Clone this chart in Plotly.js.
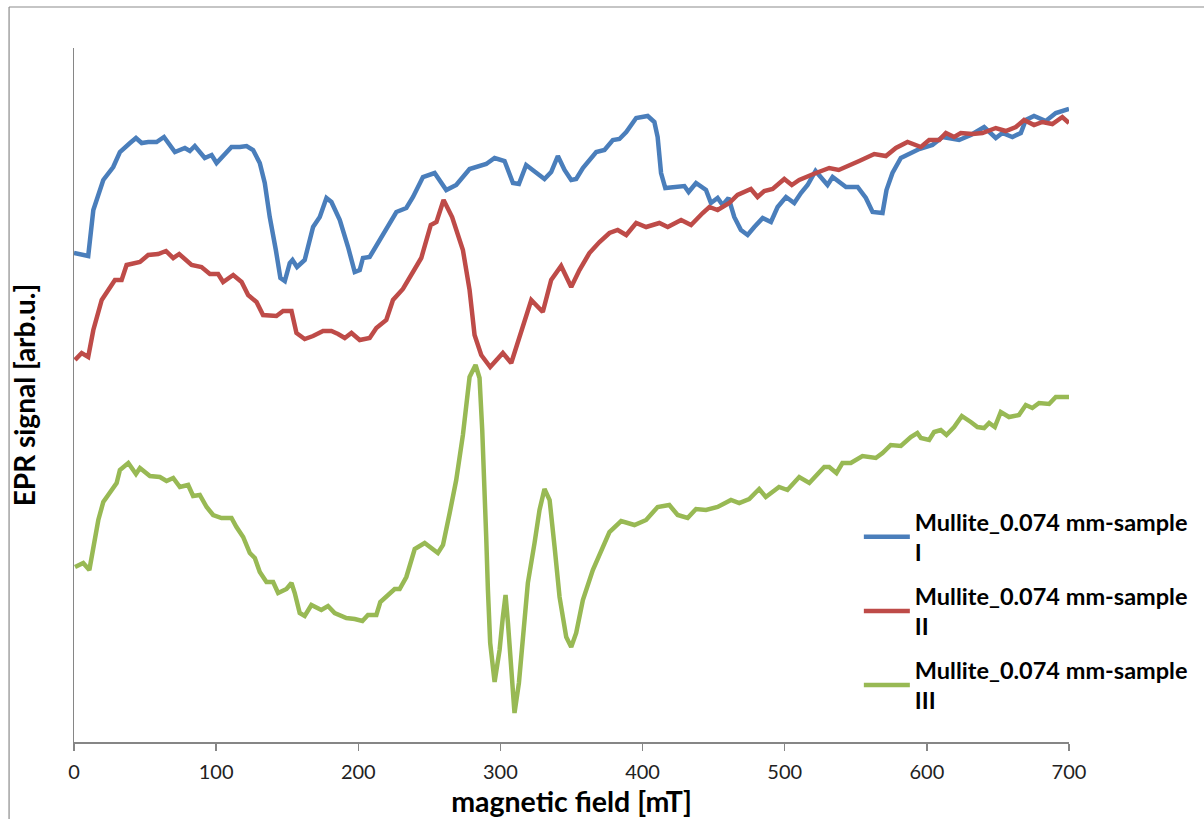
<!DOCTYPE html>
<html>
<head>
<meta charset="utf-8">
<script src="https://cdn.plot.ly/plotly-3.0.1.min.js"></script>
<style>html,body{margin:0;padding:0;background:#fff;}#chart{width:1204px;height:819px;}</style>
</head>
<body>
<div id="chart"></div>
<script>
// magnetic field [mT] and EPR signal [arb.u.] for each sample
const fieldI = [0,10,13.6,20.6,27.6,32.3,39.4,43.6,47.6,52.2,58.1,63.3,71,78,81.5,85,92,96.8,100.3,106,110.8,116.7,121.4,126,130.7,134.2,137.7,142,145.2,148.3,151.8,153.7,156.9,162.3,168.2,172.9,177.6,181.1,187,192.8,197.5,201,203.3,208,215,220.9,226.8,233.8,238.5,245.5,253.7,261.9,268.9,278.3,290,295.9,302.9,308.8,313,318.1,324,331,335.7,340.4,345.1,349.8,353.3,358,367.4,373.2,379.1,383.7,388.5,395.5,403.6,408.3,410.6,413,416,423.6,429.4,432.4,437.6,444.6,448.1,452.8,456.3,460.5,464.5,469.2,473.9,478.6,484.5,490.3,495,500.9,506.7,511.4,516.1,521.7,530.1,533.7,543.1,551.3,557.1,561.8,568.8,571.6,575.8,581.7,589.8,594.6,603.9,611,622.7,630.9,640.3,648.5,653.1,660.2,666.1,669.6,675.4,683.7,690.7,700];
const signalI = [489,486,532,562,575,590,599,604,599,600,600,605,590,594,591,596,584,587,579,587,595,595,596,592,579,559,525,492,464,461,479,482,475,482,515,525,544,540,522,495,470,472,484,485,502,515,530,534,545,565,569,552,557,573,578,584,581,559,558,577,570,563,570,586,572,562,563,574,590,592,602,603,610,624,626,620,605,569,554,555,556,550,559,552,539,544,537,544,525,512,507,515,524,520,535,545,539,549,557,571,557,565,555,555,544,530,529,552,569,584,589,593,597,605,602,607,615,604,609,605,609,622,626,621,629,633];

const fieldII = [0.7,5.4,10,13.6,19.5,28.8,33.5,37,46.4,52.2,59.2,64.7,69.8,74,82.7,89.7,95.6,101.4,104.9,112,117.9,122.5,128.4,133,142.4,147.1,153,156.5,162.3,168.2,175.2,181.1,185.8,190.5,195.2,201,208,212.7,219.7,224.4,231.4,238.5,244.3,251,255,260,266,273.6,278.3,281.8,286.5,292.8,297,301.7,307.6,313.4,321.7,329.8,335.7,342.7,349.8,355.6,362.6,369.7,376.7,382.5,388.5,395.5,402.5,411.8,417.7,427.1,434.1,442.3,447,452.8,461,466.8,476.2,480.9,485.6,491.5,499.7,505,510.2,520.2,531.3,538,546.5,552.4,563,571.2,578.2,586.4,595.8,601.6,608.7,613.4,619.2,623.9,632.1,639.1,648.5,655.5,662.6,668.4,675.4,681.3,688.3,695.3,700];
const signalII = [382,389,385,412,442,462,462,477,480,487,488,491,484,488,477,475,468,468,460,467,460,447,440,427,426,431,431,409,403,406,411,411,408,404,409,402,404,414,422,442,453,470,484,517,520,542,525,492,452,407,387,375,382,389,379,405,442,430,462,476,455,472,489,500,509,512,507,519,515,519,515,522,517,529,535,532,539,547,553,545,551,553,563,557,562,568,574,572,577,581,588,586,594,600,595,602,602,609,605,609,608,609,614,611,615,622,617,620,618,625,619];

const fieldIII = [0.7,6.5,10.8,13.6,17.1,20.6,25.3,30,32.3,38.2,43.6,46.4,53.4,60.4,65.1,69.8,74.5,80.3,83.8,88.5,93.3,97.9,103.8,110.8,114.3,119,123.7,127.2,130.7,135.4,140.1,143.6,149.5,153,155.3,158.8,162.3,167,174,178.7,183.4,191.6,197.5,202.9,206.8,212.7,215.5,220.9,225.6,229.1,233.8,239.7,246.7,256,259.6,264.3,268.9,273.6,277.1,278.3,282.5,285.3,287.2,288.8,290,291.2,292.8,295.9,299.4,301.7,303.6,305.3,307.6,309.9,313,315.8,319.3,324,327.5,331,334.6,338.1,341.6,346.3,349.8,353.3,358,365,370.9,376.7,384.9,394.3,402.5,410.6,418.8,424.7,431.7,437.6,444.6,452.8,462.2,468,475,482,486.7,496,501.9,510.2,517.3,527.8,531.3,536.4,540.6,546.5,554.7,560.6,564.1,568.8,574.6,581.7,588.7,593.3,595.8,601.6,605.1,609.8,613.8,619.2,624.6,630.9,635.6,640.3,643.8,647.8,652,657.8,664.8,669.6,674.2,678.9,686,690.7,700];
const signalIII = [175,179,172,195,222,240,249,259,272,279,268,274,266,265,261,264,255,257,246,247,235,227,224,224,215,205,189,184,170,160,160,149,153,159,149,129,126,137,132,136,129,124,123,121,127,127,140,147,153,153,165,193,199,189,197,229,262,307,359,365,377,364,312,259,205,152,99,60,92,125,147,119,69,29,59,105,159,199,232,253,242,195,145,105,95,109,142,172,192,210,221,217,222,235,237,227,224,233,232,235,242,239,243,253,245,255,252,265,259,275,275,269,279,279,286,285,284,289,297,296,305,309,304,302,310,312,307,315,326,320,315,314,319,315,330,325,327,337,334,339,338,345,345];

const seriesNames = ['Mullite_0.074 mm-sample<br>I','Mullite_0.074 mm-sample<br>II','Mullite_0.074 mm-sample<br>III'];
const seriesColors = ['#4A7EBB','#BE4B48','#98B954'];
const xTicks = [0,100,200,300,400,500,600,700];

const fields = [fieldI, fieldII, fieldIII];
const signals = [signalI, signalII, signalIII];

const traces = fields.map((f, i) => ({
  x: f, y: signals[i], type: 'scatter', mode: 'lines',
  name: seriesNames[i], legendgroup: 'g' + i,
  line: {color: seriesColors[i], width: 4.5, shape: 'linear'}
}));

const axisGray = '#868686';
const layout = {
  width: 1204, height: 819,
  margin: {l: 74, r: 134, t: 48, b: 77, pad: 0},
  paper_bgcolor: '#ffffff', plot_bgcolor: '#ffffff',
  font: {family: 'Lato, "Open Sans", sans-serif', color: '#000'},
  showlegend: true,
  legend: {
    x: 0.788, y: 0.349, xanchor: 'left', yanchor: 'top',
    font: {family: 'Lato, sans-serif', size: 23.5, color: '#000', weight: 'bold'},
    bgcolor: 'rgba(0,0,0,0)', borderwidth: 0,
    traceorder: 'grouped', tracegroupgap: 10, itemwidth: 46
  },
  xaxis: {
    range: [0, 700], tickvals: xTicks, ticktext: xTicks.map(String),
    showgrid: false, zeroline: false,
    showline: true, linecolor: axisGray, linewidth: 1.5,
    ticks: 'outside', ticklen: 7, tickwidth: 1.5, tickcolor: axisGray,
    ticklabelstandoff: 4,
    tickfont: {family: 'Lato, sans-serif', size: 20, color: '#222'},
    title: {text: '<b>magnetic field [mT]</b>', font: {family: 'Lato, sans-serif', size: 28.5, color: '#000'}, standoff: 10},
    automargin: false
  },
  yaxis: {
    range: [0, 694], showticklabels: false, ticks: '',
    showgrid: false, zeroline: false,
    showline: true, linecolor: axisGray, linewidth: 1.5,
    title: {text: '<b>EPR signal [arb.u.]</b>', font: {family: 'Lato, sans-serif', size: 28, color: '#000'}, standoff: 28},
    automargin: false
  },
  shapes: [
    {type: 'line', xref: 'paper', yref: 'paper', x0: (9 - 74) / 996, x1: (9 - 74) / 996, y0: -0.2, y1: (742 - 7) / 694, line: {color: '#8c8c8c', width: 1.2}},
    {type: 'line', xref: 'paper', yref: 'paper', x0: (9 - 74) / 996, x1: 1.2, y0: (742 - 7) / 694, y1: (742 - 7) / 694, line: {color: '#8c8c8c', width: 1.2}}
  ]
};

Plotly.newPlot('chart', traces, layout, {displayModeBar: false, staticPlot: true});
</script>
</body>
</html>
